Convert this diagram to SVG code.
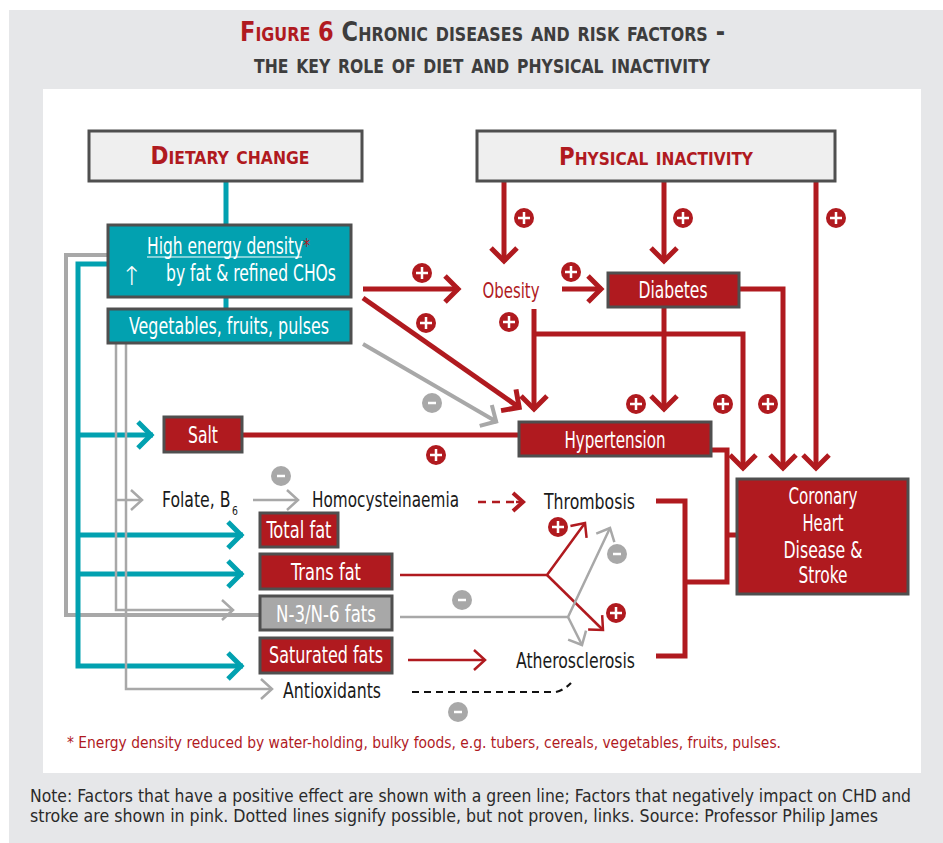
<svg xmlns="http://www.w3.org/2000/svg" width="943" height="843" viewBox="0 0 943 843">
<style>
.t{font-family:"Liberation Sans Narrow","DejaVu Sans Condensed","Arial Narrow","Liberation Sans",sans-serif;font-stretch:condensed}
.lbl{font-size:23px;fill:#fff;text-anchor:middle}
.blk{font-size:22px;fill:#1a1a1a}
.hd{font-size:25px;font-weight:bold;fill:#b01a1f;font-variant:small-caps;text-anchor:middle}
.rbox{fill:#b01a1f;stroke:#4f4f4f;stroke-width:3}
.tbox{fill:#02a1b0;stroke:#4f4f4f;stroke-width:3}
.gbox{fill:#efefef;stroke:#4f4f4f;stroke-width:3}
.r5{fill:none;stroke:#b01a1f;stroke-width:5}
.r2{fill:none;stroke:#b01a1f;stroke-width:2.5}
.tl{fill:none;stroke:#02a1b0;stroke-width:5}
.g4{fill:none;stroke:#a8a8a8;stroke-width:4}
.g2{fill:none;stroke:#a8a8a8;stroke-width:2.5}
</style>
<defs>
<marker id="mr" markerUnits="userSpaceOnUse" orient="auto" markerWidth="40" markerHeight="40" refX="0" refY="0" overflow="visible"><path d="M-14,-13 L-1,0 L-14,13" fill="none" stroke="#b01a1f" stroke-width="5"/></marker>
<marker id="mt" markerUnits="userSpaceOnUse" orient="auto" markerWidth="40" markerHeight="40" refX="0" refY="0" overflow="visible"><path d="M-15,-13 L-2,0 L-15,13" fill="none" stroke="#02a1b0" stroke-width="5"/></marker>
<marker id="mg" markerUnits="userSpaceOnUse" orient="auto" markerWidth="40" markerHeight="40" refX="0" refY="0" overflow="visible"><path d="M-13,-12 L-1,0 L-13,12" fill="none" stroke="#a8a8a8" stroke-width="4"/></marker>
<marker id="mgs" markerUnits="userSpaceOnUse" orient="auto" markerWidth="30" markerHeight="30" refX="0" refY="0" overflow="visible"><path d="M-11,-10 L0,0 L-11,10" fill="none" stroke="#a8a8a8" stroke-width="2.5"/></marker>
<marker id="mrs" markerUnits="userSpaceOnUse" orient="auto" markerWidth="30" markerHeight="30" refX="0" refY="0" overflow="visible"><path d="M-11,-10 L0,0 L-11,10" fill="none" stroke="#b01a1f" stroke-width="2.5"/></marker>
<marker id="mrd" markerUnits="userSpaceOnUse" orient="auto" markerWidth="30" markerHeight="30" refX="0" refY="0" overflow="visible"><path d="M-10,-9 L0,0 L-10,9" fill="none" stroke="#b01a1f" stroke-width="4"/></marker>
<g id="plus"><circle r="10" fill="#b01a1f"/><path d="M-6,0 H6 M0,-6 V6" stroke="#fff" stroke-width="2.5"/></g>
<g id="minus"><circle r="10" fill="#a8a8a8"/><path d="M-4,0 H4" stroke="#fff" stroke-width="2.5"/></g>
</defs>

<rect x="9" y="10" width="934" height="833" fill="#e6e7e9"/>
<rect x="43" y="89" width="878" height="684" fill="#fff"/>

<g id="title" class="t" font-weight="bold" font-variant="small-caps">
<text x="240" y="41" font-size="27" textLength="485" lengthAdjust="spacingAndGlyphs"><tspan fill="#b01a1f">Figure 6</tspan><tspan fill="#3d3d3d"> Chronic diseases and risk factors -</tspan></text>
<text x="254" y="73" font-size="27" fill="#3d3d3d" textLength="456" lengthAdjust="spacingAndGlyphs">the key role of diet and physical inactivity</text>
</g>

<g id="connectors">
<path class="tl" d="M226,181 V225 M226,297 V309"/>
<path class="g4" d="M108,255 H66 V615 H260"/>
<path class="tl" d="M108,264 H78 V666 H243" marker-end="url(#mt)"/>
<path class="tl" d="M78,435 H153" marker-end="url(#mt)"/>
<path class="tl" d="M78,535 H243" marker-end="url(#mt)"/>
<path class="tl" d="M78,574 H243" marker-end="url(#mt)"/>
<path class="g2" d="M116,343 V610 H233" marker-end="url(#mgs)"/>
<path class="g2" d="M116,500 H142" marker-end="url(#mgs)"/>
<path class="g2" d="M126,343 V689 H272" marker-end="url(#mgs)"/>
<path class="g2" d="M253,500 H298" marker-end="url(#mgs)"/>
<path fill="none" stroke="#b01a1f" stroke-width="2.5" stroke-dasharray="8,6" d="M478,502 H520"/>
<path class="r2" d="M516,502 H523" marker-end="url(#mrd)"/>
<path class="r5" d="M242,435 H519"/>
<path class="r5" d="M363,289 H459" marker-end="url(#mr)"/>
<path class="r5" d="M363,298 L520,408" marker-end="url(#mr)"/>
<path class="g4" d="M363,344 L497,422" marker-end="url(#mg)"/>
<path class="r5" d="M562,289 H602" marker-end="url(#mr)"/>
<path class="r5" d="M534,309 V410" marker-end="url(#mr)"/>
<path class="r5" d="M534,334 H743 V469" marker-end="url(#mr)"/>
<path class="r5" d="M664,307 V410" marker-end="url(#mr)"/>
<path class="r5" d="M739,289 H783 V469" marker-end="url(#mr)"/>
<path class="r5" d="M504,181 V262" marker-end="url(#mr)"/>
<path class="r5" d="M664,181 V262" marker-end="url(#mr)"/>
<path class="r5" d="M816,181 V469" marker-end="url(#mr)"/>
<path class="r5" d="M684,450 H727 V582 H685 M727,535 H737"/>
<path class="r5" d="M656,501 H685 V656 H656"/>
<path class="r2" d="M400,575 H547 L585,523" marker-end="url(#mrs)"/>
<path class="r2" d="M547,575 L603,630" marker-end="url(#mrs)"/>
<path class="g2" d="M400,617 H568 L610,528" marker-end="url(#mgs)"/>
<path class="g2" d="M568,617 L582,645" marker-end="url(#mgs)"/>
<path class="r2" d="M408,660 H485" marker-end="url(#mrs)"/>
<path fill="none" stroke="#111" stroke-width="2.2" stroke-dasharray="7,5" d="M412,692 H556 Q564,690 571,683"/>
</g>

<g id="signs">
<use href="#plus" x="422" y="273"/>
<use href="#plus" x="426" y="323"/>
<use href="#plus" x="509" y="322"/>
<use href="#plus" x="524" y="218"/>
<use href="#plus" x="683" y="218"/>
<use href="#plus" x="836" y="218"/>
<use href="#plus" x="571" y="272"/>
<use href="#plus" x="636" y="404"/>
<use href="#plus" x="723" y="404"/>
<use href="#plus" x="768" y="404"/>
<use href="#plus" x="436" y="455"/>
<use href="#plus" x="558" y="527"/>
<use href="#plus" x="616" y="613"/>
<use href="#minus" x="432" y="403"/>
<use href="#minus" x="281" y="476"/>
<use href="#minus" x="617" y="554"/>
<use href="#minus" x="462" y="600"/>
<use href="#minus" x="458" y="712"/>
</g>

<g id="dietary" class="t"><rect class="gbox" x="89" y="131" width="273" height="50"/><text class="hd" x="230" y="164" textLength="159" lengthAdjust="spacingAndGlyphs">Dietary change</text></g>
<g id="physical" class="t"><rect class="gbox" x="477" y="131" width="358" height="50"/><text class="hd" x="656" y="165" textLength="194" lengthAdjust="spacingAndGlyphs">Physical inactivity</text></g>

<g id="energy" class="t"><rect class="tbox" x="108" y="225" width="243" height="72"/>
<text x="147" y="254" font-size="23" fill="#fff" textLength="163" lengthAdjust="spacingAndGlyphs">High energy density<tspan fill="#b01a1f" font-size="20" dy="-2">*</tspan></text>
<line x1="147" y1="257" x2="302" y2="257" stroke="#fff" stroke-width="1.2"/>
<text x="132" y="285" font-size="26" fill="#fff" text-anchor="middle" font-family="DejaVu Sans,sans-serif" font-weight="200">↑</text>
<text x="166" y="281" font-size="23" fill="#fff" textLength="170" lengthAdjust="spacingAndGlyphs">by fat &amp; refined CHOs</text></g>

<g id="veg" class="t"><rect class="tbox" x="108" y="309" width="243" height="34"/><text class="lbl" x="229" y="334" textLength="200" lengthAdjust="spacingAndGlyphs">Vegetables, fruits, pulses</text></g>

<g id="obesity" class="t"><text x="511" y="298" font-size="22" fill="#b01a1f" text-anchor="middle" textLength="57" lengthAdjust="spacingAndGlyphs">Obesity</text></g>
<g id="diabetes" class="t"><rect class="rbox" x="608" y="273" width="131" height="34"/><text class="lbl" x="673" y="298" textLength="69" lengthAdjust="spacingAndGlyphs">Diabetes</text></g>
<g id="hypertension" class="t"><rect class="rbox" x="519" y="422" width="192" height="34"/><text class="lbl" x="615" y="448" textLength="101" lengthAdjust="spacingAndGlyphs">Hypertension</text></g>
<g id="salt" class="t"><rect class="rbox" x="164" y="417" width="78" height="35"/><text class="lbl" x="203" y="443" textLength="30" lengthAdjust="spacingAndGlyphs">Salt</text></g>

<g id="folate" class="t"><text class="blk" x="162" y="507" textLength="76" lengthAdjust="spacingAndGlyphs">Folate, B<tspan font-size="13" dx="2" dy="8">6</tspan></text></g>
<g id="homo" class="t"><text class="blk" x="312" y="507" textLength="147" lengthAdjust="spacingAndGlyphs">Homocysteinaemia</text></g>
<g id="thrombosis" class="t"><text class="blk" x="544" y="509" textLength="91" lengthAdjust="spacingAndGlyphs">Thrombosis</text></g>
<g id="athero" class="t"><text class="blk" x="516" y="668" textLength="119" lengthAdjust="spacingAndGlyphs">Atherosclerosis</text></g>
<g id="antiox" class="t"><text class="blk" x="283" y="698" textLength="98" lengthAdjust="spacingAndGlyphs">Antioxidants</text></g>

<g id="totalfat" class="t"><rect class="rbox" x="260" y="513" width="78" height="34"/><text class="lbl" x="299" y="538" textLength="65" lengthAdjust="spacingAndGlyphs">Total fat</text></g>
<g id="transfat" class="t"><rect class="rbox" x="260" y="554" width="132" height="35"/><text class="lbl" x="326" y="580" textLength="70" lengthAdjust="spacingAndGlyphs">Trans fat</text></g>
<g id="n3n6" class="t"><rect fill="#a8a8a8" stroke="#4f4f4f" stroke-width="3" x="260" y="596" width="132" height="34"/><text class="lbl" x="326" y="622" fill="#f2f2f2" textLength="100" lengthAdjust="spacingAndGlyphs">N-3/N-6 fats</text></g>
<g id="satfat" class="t"><rect class="rbox" x="260" y="638" width="132" height="35"/><text class="lbl" x="326" y="663" textLength="114" lengthAdjust="spacingAndGlyphs">Saturated fats</text></g>

<g id="chd" class="t"><rect class="rbox" x="737" y="479" width="171" height="115"/>
<text class="lbl" x="823" y="504" textLength="69" lengthAdjust="spacingAndGlyphs">Coronary</text>
<text class="lbl" x="823" y="531" textLength="41" lengthAdjust="spacingAndGlyphs">Heart</text>
<text class="lbl" x="823" y="558" textLength="79" lengthAdjust="spacingAndGlyphs">Disease &amp;</text>
<text class="lbl" x="823" y="583" textLength="49" lengthAdjust="spacingAndGlyphs">Stroke</text></g>

<g id="notes" class="t">
<text x="67" y="748" font-size="16" fill="#b01a1f" textLength="714" lengthAdjust="spacingAndGlyphs">* Energy density reduced by water-holding, bulky foods, e.g. tubers, cereals, vegetables, fruits, pulses.</text>
<text x="30" y="802" font-size="18" fill="#2a2a2a" textLength="881" lengthAdjust="spacingAndGlyphs">Note: Factors that have a positive effect are shown with a green line; Factors that negatively impact on CHD and</text>
<text x="30" y="822" font-size="18" fill="#2a2a2a" textLength="848" lengthAdjust="spacingAndGlyphs">stroke are shown in pink. Dotted lines signify possible, but not proven, links. Source: Professor Philip James</text>
</g>
</svg>
